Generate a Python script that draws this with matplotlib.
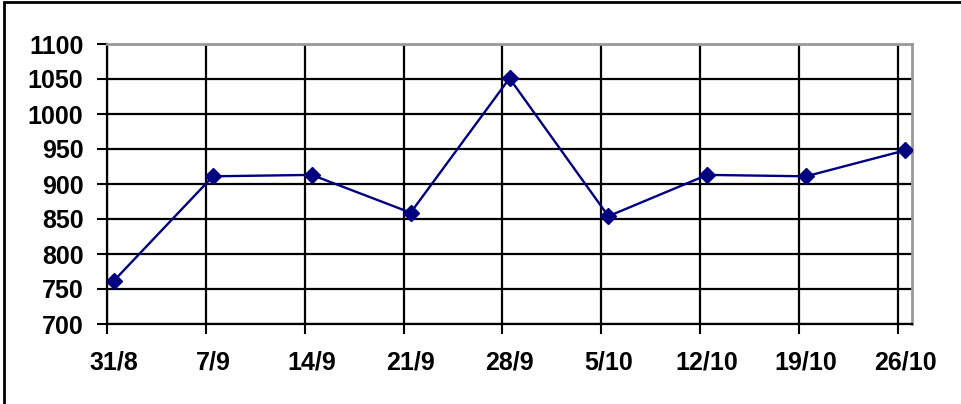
import matplotlib.pyplot as plt
from matplotlib.patches import Rectangle
from matplotlib.ticker import FixedLocator

# weekly dates, values
tick_labels = ["31/8", "7/9", "14/9", "21/9", "28/9", "5/10", "12/10", "19/10", "26/10"]
week_days = [0, 7, 14, 21, 28, 35, 42, 49, 56]
values = [762, 911, 913, 859, 1051, 854, 913, 911, 948]

plt.rcParams['font.family'] = ['Liberation Sans', 'DejaVu Sans']
plt.rcParams['font.weight'] = 'bold'

fig = plt.figure(figsize=(9.61, 4.04), dpi=100)
W, H = 961, 404
ax = fig.add_axes([107 / W, 1 - 324 / H, (912 - 107) / W, (324 - 44) / H])

# points sit half a day after each week tick
xs = [d + 0.5 for d in week_days]
ax.plot(xs, values, color='#000080', lw=1.7, marker='D', ms=8.5, zorder=3)

ax.set_xlim(0, 57.0)
ax.set_ylim(700, 1100)
ax.set_yticks(range(700, 1101, 50))
ax.set_yticklabels([str(v) for v in range(700, 1101, 50)], fontsize=18, fontweight='bold')

ax.xaxis.set_major_locator(FixedLocator(week_days))
ax.set_xticklabels([])
ax.xaxis.set_minor_locator(FixedLocator(xs))
ax.set_xticklabels(tick_labels, minor=True, fontsize=18, fontweight='bold')
ax.tick_params(axis='x', which='minor', length=0, pad=19)
ax.tick_params(axis='x', which='major', length=7, width=1.5, color='black')
ax.tick_params(axis='y', length=7, width=1.5, color='black', pad=10)

ax.grid(True, which='major', color='black', lw=1.6)
ax.set_axisbelow(True)

for s in ['top', 'right']:
    ax.spines[s].set_color('#999999')
    ax.spines[s].set_linewidth(2)
for s in ['left', 'bottom']:
    ax.spines[s].set_color('black')
    ax.spines[s].set_linewidth(1.6)

# outer chart frame (only left and top are visible in the crop)
fig.patches.append(Rectangle((4 / W, -0.1), 1.2, 1.1 - 2 / H, transform=fig.transFigure,
                             fill=False, ec='black', lw=2))

fig.savefig('out.png', dpi=100)
